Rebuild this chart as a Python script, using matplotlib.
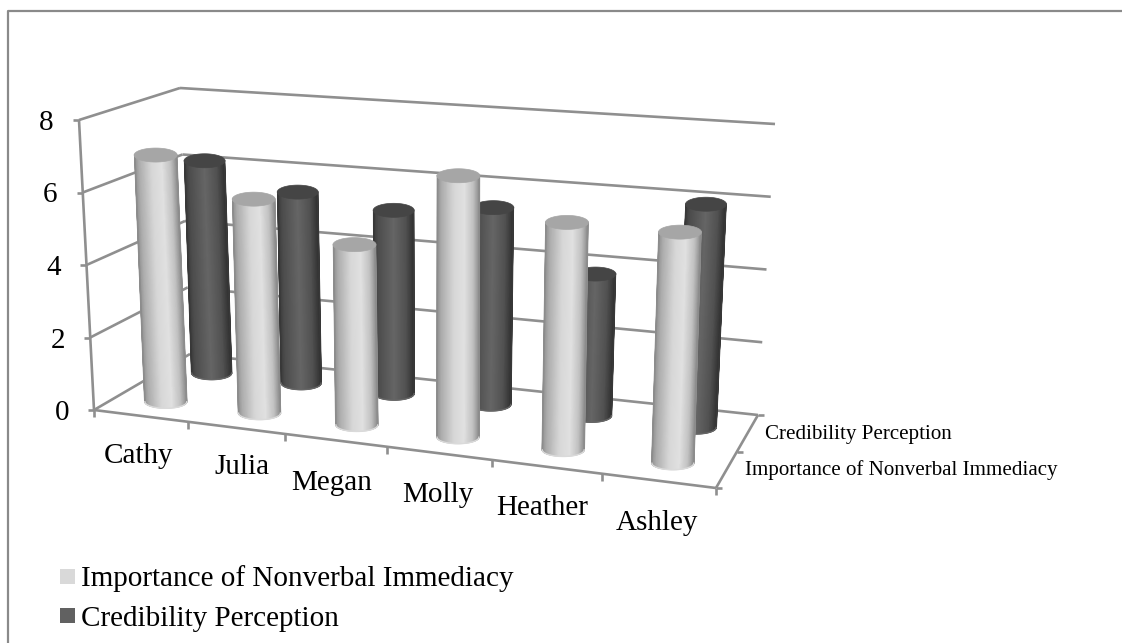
#!/usr/bin/python3
import numpy as np
import matplotlib
matplotlib.use('Agg')
import matplotlib.pyplot as plt
from matplotlib.patches import Polygon, Rectangle

names = ['Cathy', 'Julia', 'Megan', 'Molly', 'Heather', 'Ashley']
importance = [6.9, 5.9, 4.9, 7.0, 6.0, 6.0]
credibility = [6.2, 5.5, 5.2, 5.5, 3.9, 6.05]
value_ticks = [0, 2, 4, 6, 8]
series_names = ['Importance of Nonverbal Immediacy', 'Credibility Perception']

plt.rcParams['font.family'] = ['Liberation Serif', 'DejaVu Serif']

# corners of the 3d box in pixels: (front/back, bottom/top, left/right)
FBL, FBR = np.array([94., 410.]), np.array([716., 488.])
BBL, BBR = np.array([190., 354.]), np.array([758., 415.])
FTL, FTR = np.array([79., 120.]), np.array([726., 171.])
BTL, BTR = np.array([180., 88.]), np.array([775., 124.])
GRID = '#8f8f8f'
PERSP = .889
BAR_POS = .525

def proj(u, d, v):
	# u: category 0..6, d: depth 0..2, v: value 0..8
	s = u / 6.0
	f = PERSP * s / (1 + (PERSP - 1) * s)  # right side is nearer, so gaps grow
	t, h = d / 2.0, v / 8.0
	front_b = FBL + (FBR - FBL) * f
	back_b = BBL + (BBR - BBL) * f
	front_t = FTL + (FTR - FTL) * f
	back_t = BTL + (BTR - BTL) * f
	bot = front_b + (back_b - front_b) * t
	top = front_t + (back_t - front_t) * t
	return bot + (top - bot) * h

def line(ax, a, b, lw=1.9):
	ax.plot([a[0], b[0]], [a[1], b[1]], color=GRID, lw=lw, solid_capstyle='butt', zorder=2)

def shade(stops, s):
	return np.interp(s, [p[0] for p in stops], [p[1] for p in stops])

LIGHT = [(0, .55), (.12, .68), (.4, .84), (.65, .88), (.85, .76), (1, .55)]
DARK = [(0, .22), (.12, .30), (.5, .40), (.8, .32), (1, .19)]

def cylinder(ax, u, d, val, stops, cap, r, b, z):
	p0, p1 = proj(u, d, 0), proj(u, d, val)
	th = np.linspace(np.pi, 0, 61)
	cx, cy = (r - .6) * np.cos(th), (b - .5) * np.sin(th)
	X = np.vstack([p0[0] + cx, p1[0] + cx])
	Y = np.vstack([p0[1] + cy, p1[1] + cy])
	g = shade(stops, cx / r / 2 + .5)
	ax.pcolormesh(X, Y, np.vstack([g, g]), shading='gouraud', cmap='gray', vmin=0, vmax=1, zorder=z)
	# outline hides the jagged mesh edges
	edge = str(stops[0][1])
	ax.plot(X[:, 0], Y[:, 0], color=edge, lw=1.2, zorder=z + .05)
	ax.plot(X[:, -1], Y[:, -1], color=edge, lw=1.2, zorder=z + .05)
	ax.plot(X[0], Y[0], color=str(shade(stops, .5)), lw=1.0, zorder=z + .05)
	th2 = np.linspace(0, 2 * np.pi, 80)
	ax.add_patch(Polygon(np.c_[p1[0] + r * np.cos(th2), p1[1] + b * np.sin(th2)], closed=True, fc=cap, ec=cap, lw=.5, zorder=z + .1))

fig = plt.figure(figsize=(11.22, 6.43), dpi=100)
ax = fig.add_axes([0, 0, 1, 1])

# chart frame, only the top and left edges are in the picture
ax.plot([8, 8, 1122], [643, 10.5, 10.5], color='#8a8a8a', lw=1.6, zorder=1)

# walls and floor
for v in value_ticks:
	line(ax, proj(0, 2, v), proj(6, 2, v))
	line(ax, proj(0, 0, v), proj(0, 2, v))
	a = proj(0, 0, v)
	line(ax, (a[0] - 6, a[1]), a)
	ax.text(a[0] - 25, a[1], str(v), fontsize=21, ha='right', va='center_baseline', color='black')
line(ax, proj(0, 0, 0), proj(0, 0, 8))
line(ax, proj(0, 0, 0), proj(6, 0, 0))
line(ax, proj(6, 0, 0), proj(6, 2, 0))
for u in range(7):
	a = proj(u, 0, 0)
	line(ax, a, (a[0], a[1] + 7))
for d in [0, 1, 2]:
	a = proj(6, d, 0)
	line(ax, a, (a[0] + 6, a[1]))

for i in range(len(names)):
	cylinder(ax, i + BAR_POS, 1.5, credibility[i], DARK, '#454545', 20.5, 7, 3 + i * .2)
for i in range(len(names)):
	cylinder(ax, i + BAR_POS, .5, importance[i], LIGHT, '#a6a6a6', 21.5, 7, 5 + i * .2)

# category labels sit below the front edge
label_dx = [-1.5, 6, -4, -1, -4, -1]
label_dy = [37, 36, 40, 39, 38, 39]
for i, n in enumerate(names):
	a = proj(i + .5, 0, 0)
	ax.text(a[0] + label_dx[i], a[1] + label_dy[i], n, fontsize=21, ha='center', va='center_baseline', color='black')

ax.text(765, 432, series_names[1], fontsize=15.1, ha='left', va='center_baseline', color='black')
ax.text(745, 468, series_names[0], fontsize=15.1, ha='left', va='center_baseline', color='black')

# legend
ax.add_patch(Rectangle((60, 569), 15, 15, fc='#d9d9d9', ec='none'))
ax.add_patch(Rectangle((60, 608), 15, 15, fc='#616161', ec='none'))
ax.text(81, 576, series_names[0], fontsize=21, ha='left', va='center_baseline', color='black')
ax.text(81, 616, series_names[1], fontsize=21, ha='left', va='center_baseline', color='black')

ax.set_xlim(0, 1122)
ax.set_ylim(643, 0)
ax.axis('off')

fig.savefig('out.png', dpi=100)
